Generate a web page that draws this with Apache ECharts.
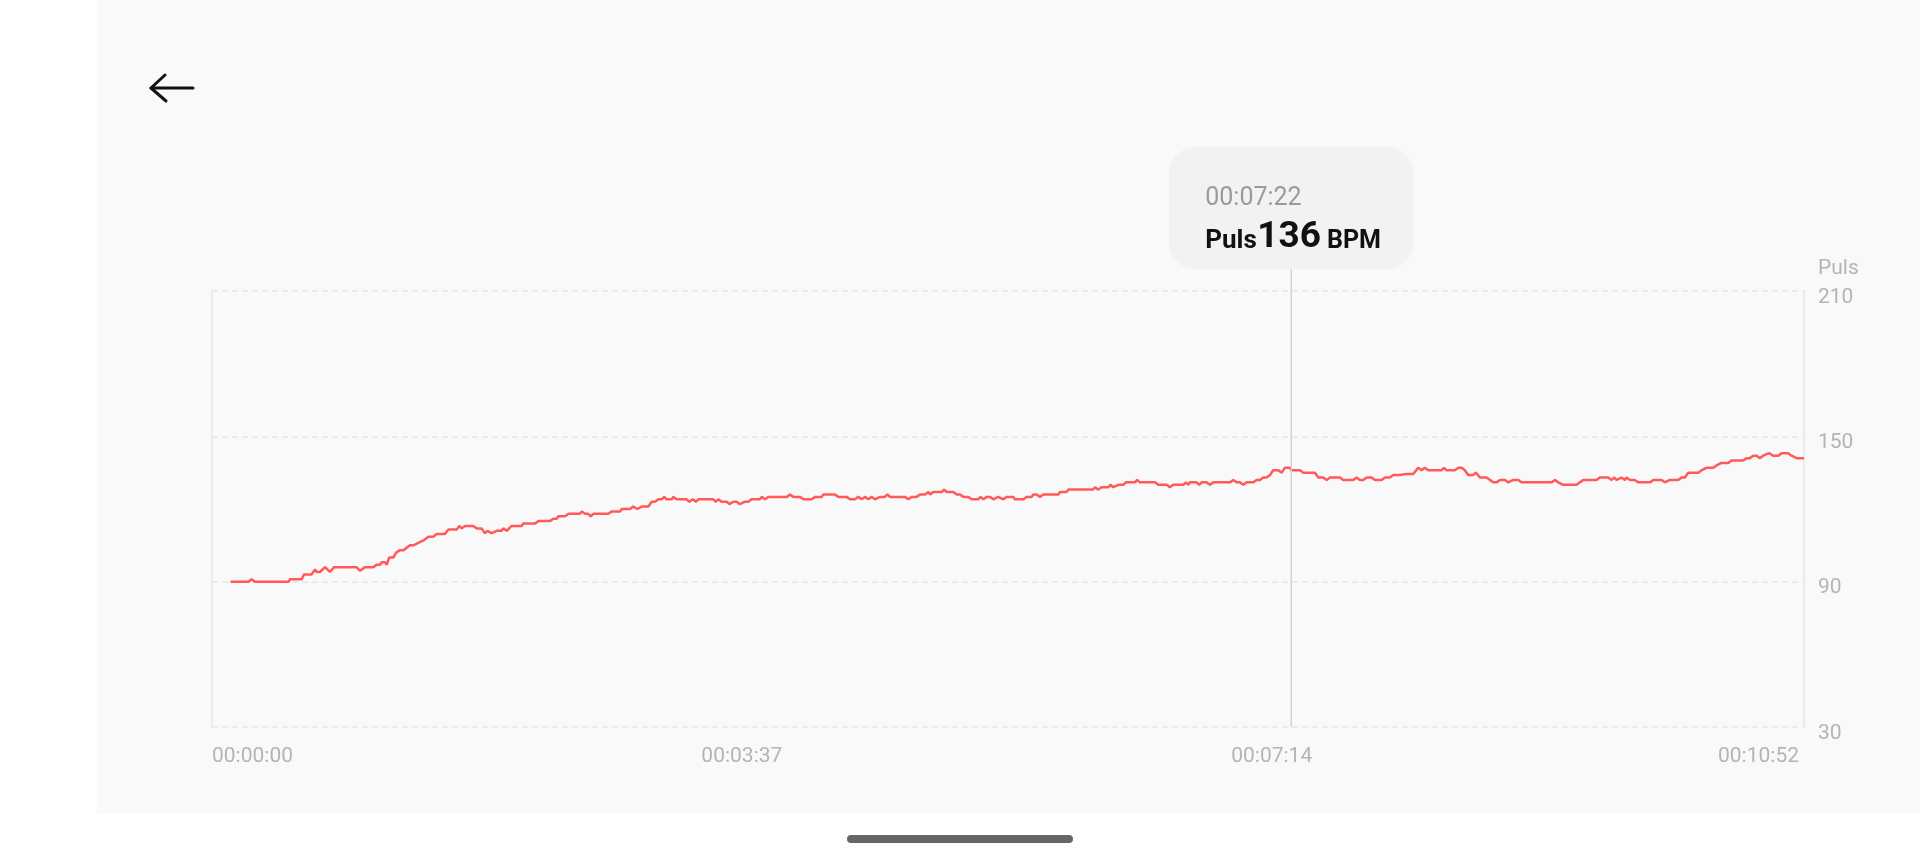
<!DOCTYPE html>
<html>
<head>
<meta charset="utf-8">
<script src="https://cdn.jsdelivr.net/npm/echarts@6/dist/echarts.min.js"></script>
<style>
html,body{margin:0;padding:0;background:#fff;}
#wrap{position:relative;width:1920px;height:864px;overflow:hidden;background:#fff;}
#panel{position:absolute;left:97px;top:0;width:1823px;height:813px;background:#f9f9f9;}
#chart{position:absolute;left:0;top:0;width:1920px;height:864px;}
</style>
</head>
<body>
<div id="wrap"><div id="panel"></div><div id="chart"></div></div>
<script>
// ---- data (seconds, bpm) ----
const xTicks = [0, 217, 434, 652];
const xTickLabels = ['00:00:00', '00:03:37', '00:07:14', '00:10:52'];
const yTicks = [30, 90, 150, 210];
const seriesName = 'Puls';
const tipTime = 442;
const tipTimeLabel = '00:07:22';
const tipValue = 136;
const tipUnit = 'BPM';

const part1 = [[7.6,90],[14.9,90],[16.2,91],[17.6,90],[31.3,90],[32.0,91],[36.7,91],[37.7,93],[40.8,93],[42.2,95],[42.9,94],[44.2,94],[46.3,96],[47.0,96],[48.3,94],[50.0,96],[59.2,96],[60.6,94.5],[62.7,96],[66.1,96],[67.4,97],[68.8,97],[69.5,98],[70.9,98],[71.5,97],[72.6,100],[74.3,100],[75.4,102],[77.0,103],[78.4,103],[79.7,104],[81.1,105],[82.5,105],[84.5,106],[86.6,107],[88.6,108.5],[90.6,108.5],[92.0,109.7],[95.4,109.7],[96.8,111.5],[100.2,111.5],[101.3,113],[102.3,112],[103.6,113],[107.0,113],[108.4,112],[110.4,112],[111.8,110],[112.8,111],[114.5,110],[116.6,111],[118.6,111],[119.3,112],[120.7,111],[122.7,113],[126.8,113],[127.5,114],[132.3,114],[133.7,115],[138.4,115],[139.8,116],[141.2,116],[141.8,117],[144.6,117],[146.0,118],[150.7,118],[151.4,119],[152.8,118],[154.1,118],[155.1,117],[156.2,118]];
const part2 = [[162.3,118],[163.7,119],[167.1,119],[167.8,120],[171.2,120],[172.5,121],[174.2,120],[176.0,121],[178.7,121],[180.1,123],[181.4,123],[182.8,124],[184.2,124],[185.2,125],[186.2,124],[188.3,124],[188.9,125],[190.3,124],[194.4,124],[195.5,123],[196.9,124],[198.2,123],[199.2,124],[205.3,124],[206.4,123],[207.4,124],[208.7,123],[210.8,123],[211.9,122],[213.5,123],[214.9,123],[216.2,122],[218.3,123],[219.6,123],[221.0,124],[224.4,124],[225.1,125],[226.5,124],[227.8,125],[235.4,125],[236.7,126],[238.1,125],[240.8,125],[242.2,124],[245.6,124],[247.0,125],[249.7,125],[250.4,126],[255.1,126],[256.5,125],[259.9,125],[261.3,124],[263.3,124],[264.7,125],[266.1,124],[267.4,125],[268.8,124],[270.2,125],[271.5,124],[273.6,125],[275.6,125],[276.6,126],[277.7,125],[283.8,125],[285.2,124],[286.5,125],[288.6,125],[290.0,126],[292.0,126],[293.4,127],[294.1,126],[295.4,127],[298.8,127],[299.8,128],[300.9,127],[303.6,127],[305.0,126],[306.3,126],[307.7,125],[309.8,125],[311.1,124],[313.8,124],[314.8,125],[315.9,124],[317.3,125],[318.6,125],[320.0,124],[322.0,125]];
const part3 = [[324.1,124],[325.4,125],[328.2,125],[328.8,124],[332.3,124],[333.6,125],[335.7,125],[336.4,126],[337.7,126],[339.1,125],[340.4,126],[346.6,126],[347.3,127],[350.0,127],[350.7,128],[360.9,128],[361.6,129],[363.0,128],[364.3,129],[367.1,129],[368.0,130],[369.1,129],[371.2,130],[373.2,130],[374.3,131],[378.0,131],[378.9,132],[380.0,131],[386.2,131],[387.5,130],[391.0,130],[392.3,129],[393.7,130],[397.8,130],[398.9,131],[399.8,130],[400.5,131],[403.2,131],[404.3,130],[405.3,131],[407.3,131],[408.7,130],[410.1,131],[416.9,131],[418.3,132],[419.6,131],[421.0,131],[422.4,130],[423.7,131],[426.5,131],[427.8,132],[429.2,132],[430.5,133],[431.9,133],[433.3,134],[434.6,136],[436.7,136],[438.1,135],[439.4,137],[441.5,137],[442.0,136],[445.6,136],[446.9,135],[451.7,135],[453.1,133],[455.1,133],[456.5,132],[457.9,133],[461.9,133],[463.3,132],[467.4,132],[468.8,133],[470.1,132],[471.5,132],[472.9,133],[474.9,133],[476.3,132],[479.0,132],[480.4,133],[482.4,133],[483.8,134],[486.5,134]];
const part4 = [[489.2,134.5],[492.0,134.5],[492.6,134],[494.0,137],[495.4,136],[496.7,137],[498.1,136],[503.6,136],[504.5,137],[505.6,136],[509.0,136],[510.4,137],[511.8,137],[513.1,136],[514.5,134],[516.5,134],[517.6,135],[519.3,133],[522.0,133],[523.4,132],[524.7,131],[526.1,131],[527.5,132],[529.5,132],[530.9,131],[531.6,131],[532.9,132],[535.0,132],[536.3,131],[548.6,131],[550.0,132],[551.3,131],[553.4,130],[558.9,130],[560.2,131],[561.6,132],[567.0,132],[568.4,133],[571.8,133],[573.2,132],[574.3,133],[575.2,132],[577.3,133],[578.6,132],[579.3,133],[580.7,132],[582.7,132],[584.1,131],[588.9,131],[590.3,132],[593.7,132],[595.0,131],[597.1,132],[600.5,132],[601.9,133],[603.2,133],[604.6,135],[608.7,135],[610.1,136],[612.1,137],[614.8,137],[616.2,138],[618.2,139],[621.0,139],[622.3,140],[627.1,140],[628.5,141],[629.8,141],[631.2,142],[632.6,142],[633.9,141],[635.3,142],[636.7,142.7],[637.8,143],[639.4,142],[641.5,142],[642.8,143],[645.5,143],[646.9,142],[647.6,142],[649.0,141],[652.0,141]];
const pulseData = part1.concat(part2, part3, part4);

// ---- chart ----
const FONT = 'Roboto, "Noto Sans", sans-serif';
const labelColor = '#b4b4b4';
const gridColor = '#e6e6e6';
const lineColor = '#ff5959';
const lblStyle = {color: labelColor, fontSize: 21, fontFamily: FONT};

const chart = echarts.init(document.getElementById('chart'), null, {renderer: 'canvas'});
chart.setOption({
  backgroundColor: 'transparent',
  animation: false,
  grid: {left: 212, right: 116, top: 291, bottom: 137, containLabel: false, outerBoundsMode: 'none'},
  xAxis: {
    type: 'value', min: xTicks[0], max: xTicks[xTicks.length - 1],
    axisLine: {show: false}, axisTick: {show: false}, splitLine: {show: false},
    axisLabel: {
      customValues: xTicks,
      formatter: function (v) {
        const i = xTicks.indexOf(v);
        if (i < 0) return '';
        return (i === xTicks.length - 1 ? '{r|' : '{n|') + xTickLabels[i] + '}';
      },
      rich: {n: lblStyle, r: Object.assign({padding: [0, 5, 0, 0]}, lblStyle)},
      color: labelColor, fontSize: 21, fontFamily: FONT, margin: 19,
      alignMinLabel: 'left', alignMaxLabel: 'right'
    }
  },
  yAxis: [{
    type: 'value', position: 'right', min: yTicks[0], max: yTicks[yTicks.length - 1],
    axisLine: {show: true, onZero: false, lineStyle: {color: gridColor, width: 1.5}},
    axisTick: {show: false, customValues: yTicks},
    axisLabel: {
      customValues: yTicks, margin: 14,
      formatter: function (v) { return '{p|' + v + '}'; },
      rich: {p: Object.assign({padding: [13, 0, 0, 0]}, lblStyle)},
      color: labelColor, fontSize: 21, fontFamily: FONT
    },
    splitLine: {show: true, lineStyle: {color: gridColor, width: 1.5, type: [6, 4]}}
  }, {
    type: 'value', position: 'left', min: yTicks[0], max: yTicks[yTicks.length - 1],
    axisLine: {show: true, onZero: false, lineStyle: {color: gridColor, width: 1.5}},
    axisTick: {show: false}, axisLabel: {show: false}, splitLine: {show: false}
  }],
  series: [{
    name: seriesName, type: 'line', data: pulseData, yAxisIndex: 0,
    showSymbol: false, symbol: 'none', smooth: false,
    lineStyle: {color: lineColor, width: 2.5}, itemStyle: {color: lineColor}, z: 3
  }]
});

// ---- fixed tooltip, crosshair, axis name, decorations ----
const px = chart.convertToPixel({xAxisIndex: 0}, tipTime);
const gridTop = chart.convertToPixel({yAxisIndex: 0}, yTicks[yTicks.length - 1]);
const gridBottom = chart.convertToPixel({yAxisIndex: 0}, yTicks[0]);
const gridRight = chart.convertToPixel({xAxisIndex: 0}, xTicks[xTicks.length - 1]);
const boxW = 244, boxH = 122;
const boxBottom = gridTop - 22;
const boxTop = boxBottom - boxH;
const boxLeft = px - boxW / 2;
const textLeft = boxLeft + 36;

const mctx = document.createElement('canvas').getContext('2d');
function tw(font, s) { mctx.font = font; return mctx.measureText(s).width; }
const fLabel = 'bold 26px Roboto';
const fVal = 'bold 37px Roboto';
const fUnit = 'bold 25px Roboto';
const baseY = boxTop + 102.5;
const wLabel = tw(fLabel, seriesName);
const wVal = tw(fVal, String(tipValue));
const xVal = textLeft + wLabel + 0.5;
const xUnit = xVal + wVal + 6;

chart.setOption({
  graphic: [
    {type: 'text', z: 61, x: gridRight + 14, y: gridTop - 22.5, style: {text: seriesName, font: '21px Roboto', fill: labelColor, verticalAlign: 'middle', align: 'left'}},
    {type: 'line', z: 50, shape: {x1: px, y1: boxBottom, x2: px, y2: gridBottom}, style: {stroke: '#d2d2d2', lineWidth: 1.5}},
    {type: 'rect', z: 60, shape: {x: boxLeft, y: boxTop, width: boxW, height: boxH, r: 26}, style: {fill: '#f2f2f2'}},
    {type: 'text', z: 61, x: textLeft, y: boxTop + 51.5, style: {text: tipTimeLabel, font: '25px Roboto', fill: '#9a9a9a', verticalAlign: 'middle', align: 'left'}},
    {type: 'text', z: 61, x: textLeft, y: baseY - 0.31 * 26, style: {text: seriesName, font: fLabel, fill: '#111', verticalAlign: 'middle', align: 'left'}},
    {type: 'text', z: 61, x: xVal, y: baseY - 0.31 * 37, style: {text: String(tipValue), font: fVal, fill: '#111', verticalAlign: 'middle', align: 'left'}},
    {type: 'text', z: 61, x: xUnit, y: baseY - 0.31 * 25, style: {text: tipUnit, font: fUnit, fill: '#111', verticalAlign: 'middle', align: 'left'}},
    {type: 'polyline', z: 61, shape: {points: [[165, 75], [151, 88], [166, 101]]}, style: {stroke: '#111', lineWidth: 3, fill: null, lineCap: 'round', lineJoin: 'round'}},
    {type: 'line', z: 61, shape: {x1: 151, y1: 88, x2: 193, y2: 88}, style: {stroke: '#111', lineWidth: 3, lineCap: 'round'}},
    {type: 'rect', z: 61, shape: {x: 847, y: 835, width: 226, height: 8, r: 4}, style: {fill: '#666'}}
  ]
});
</script>
</body>
</html>
